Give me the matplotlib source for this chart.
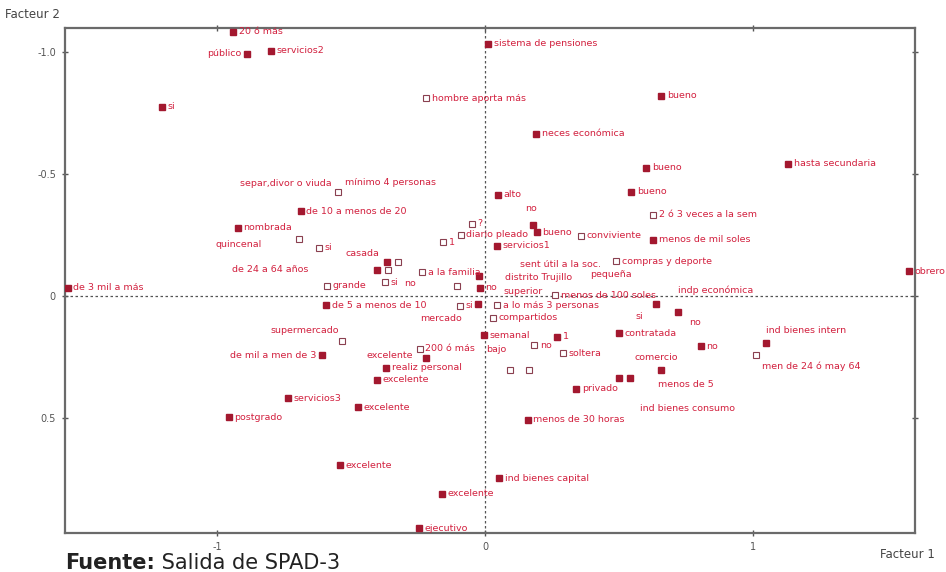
"""
SPAD factor map (Facteur 1 x Facteur 2) with category labels.
"""

import matplotlib.pyplot as plt

# active categories (filled squares)
FILLED_LABELS = [
    "20 ó más", "público", "servicios2", "si", "sistema de pensiones",
    "bueno", "neces económica", "bueno", "hasta secundaria", "bueno",
    "alto", "de 10 a menos de 20", "nombrada", "de 3 mil a más", "obrero",
    "", "bueno", "servicios1", "", "no",
    "", "", "de 5 a menos de 10", "", "semanal",
    "1", "", "de mil a men de 3", "realiz personal", "excelente",
    "privado", "servicios3", "excelente", "postgrado", "menos de 30 horas",
    "excelente", "ind bienes capital", "excelente", "ejecutivo", "",
    "", "contratada", "no", "", "",
    "", "", "menos de mil soles",
]
FILLED_X = [
    -0.940, -0.888, -0.799, -1.205, 0.011,
    0.657, 0.190, 0.601, 1.131, 0.545,
    0.049, -0.687, -0.922, -1.556, 1.582,
    0.179, 0.194, 0.045, -0.022, -0.019,
    -0.366, -0.403, -0.593, -0.026, -0.004,
    0.269, -0.220, -0.608, -0.369, -0.403,
    0.340, -0.735, -0.474, -0.955, 0.160,
    -0.541, 0.052, -0.160, -0.246, 0.638,
    0.720, 0.500, 0.806, 1.049, 0.657,
    0.500, 0.541, 0.627,
]
FILLED_Y = [
    -1.082, -0.992, -1.004, -0.775, -1.033,
    -0.820, -0.664, -0.525, -0.541, -0.426,
    -0.414, -0.348, -0.279, -0.033, -0.102,
    -0.291, -0.262, -0.205, -0.082, -0.033,
    -0.139, -0.107, 0.037, 0.033, 0.160,
    0.168, 0.254, 0.242, 0.295, 0.344,
    0.381, 0.418, 0.455, 0.496, 0.508,
    0.693, 0.746, 0.811, 0.951, 0.033,
    0.066, 0.152, 0.205, 0.193, 0.303,
    0.336, 0.336, -0.230,
]

# supplementary categories (hollow squares)
HOLLOW_LABELS = [
    "hombre aporta más", "", "", "si", "grande",
    "si", "a la familia", "menos de 100 soles", "a lo más 3 personas", "compartidos",
    "200 ó más", "", "no", "soltera", "",
    "", "2 ó 3 veces a la sem", "conviviente", "compras y deporte", "",
    "?", "diario pleado", "1", "si", "",
    "", "",
]
HOLLOW_X = [
    -0.220, -0.549, -0.694, -0.619, -0.590,
    -0.373, -0.235, 0.261, 0.045, 0.030,
    -0.243, -0.534, 0.183, 0.291, 0.093,
    0.164, 0.627, 0.358, 0.489, 1.011,
    -0.049, -0.090, -0.157, -0.093, -0.104,
    -0.325, -0.362,
]
HOLLOW_Y = [
    -0.811, -0.426, -0.234, -0.197, -0.041,
    -0.057, -0.098, -0.004, 0.037, 0.090,
    0.217, 0.184, 0.201, 0.234, 0.303,
    0.303, -0.332, -0.246, -0.143, 0.242,
    -0.295, -0.250, -0.221, 0.041, -0.041,
    -0.139, -0.107,
]

# labels displaced from their points
TEXT_LABELS = [
    "separ,divor o viuda", "mínimo 4 personas", "no", "quincenal", "casada",
    "de 24 a 64 años", "no", "sent útil a la soc.", "distrito Trujillo", "superior",
    "pequeña", "indp económica", "mercado", "supermercado", "excelente",
    "bajo", "si", "no", "ind bienes intern", "comercio",
    "menos de 5", "ind bienes consumo", "men de 24 ó may 64",
]
TEXT_X = [
    -0.914, -0.522, 0.149, -1.007, -0.522,
    -0.944, -0.302, 0.131, 0.075, 0.067,
    0.392, 0.720, -0.243, -0.802, -0.444,
    0.004, 0.563, 0.761, 1.049, 0.556,
    0.646, 0.578, 1.034,
]
TEXT_Y = [
    -0.459, -0.463, -0.357, -0.209, -0.172,
    -0.107, -0.053, -0.127, -0.074, -0.020,
    -0.090, -0.025, 0.094, 0.143, 0.242,
    0.221, 0.086, 0.107, 0.143, 0.254,
    0.361, 0.459, 0.287,
]

LEFT_SIDE = {"público", "de mil a men de 3"}

TEXT_COLOR = "#d2203e"
MARK_COLOR = "#a3182f"
FONT = "DejaVu Sans"
LABEL_SIZE = 6.8


def put_label(ax, x, y, label):
    if not label:
        return
    left = label in LEFT_SIDE
    ax.annotate(label, (x, y), xytext=(-4 if left else 4, 0), textcoords="offset points",
                ha="right" if left else "left", va="center", fontsize=LABEL_SIZE,
                color=TEXT_COLOR, family=FONT, annotation_clip=False)


def plot_factor_map():
    fig = plt.figure(figsize=(9.46, 5.72), dpi=100)
    ax = fig.add_axes([0.0687, 0.0682, 0.8985, 0.8829])

    ax.axhline(0, color="#555555", lw=0.9, ls=(0, (2, 2)), zorder=1)
    ax.axvline(0, color="#555555", lw=0.9, ls=(0, (2, 2)), zorder=1)

    ax.plot(FILLED_X, FILLED_Y, ls="none", marker="s", ms=3.8,
            mfc=MARK_COLOR, mec=MARK_COLOR, zorder=3)
    ax.plot(HOLLOW_X, HOLLOW_Y, ls="none", marker="s", ms=3.8,
            mfc="white", mec="#8a4050", mew=0.8, zorder=3)

    for x, y, lab in zip(FILLED_X, FILLED_Y, FILLED_LABELS):
        put_label(ax, x, y, lab)
    for x, y, lab in zip(HOLLOW_X, HOLLOW_Y, HOLLOW_LABELS):
        put_label(ax, x, y, lab)
    for x, y, lab in zip(TEXT_X, TEXT_Y, TEXT_LABELS):
        ax.text(x, y, lab, ha="left", va="center", fontsize=LABEL_SIZE,
                color=TEXT_COLOR, family=FONT)

    ax.set_xlim(-1.567, 1.604)
    ax.set_ylim(0.971, -1.098)
    ax.set_xticks([-1, 0, 1])
    ax.set_xticklabels(["-1", "0", "1"])
    ax.set_yticks([-1.0, -0.5, 0, 0.5])
    ax.set_yticklabels(["-1.0", "-0.5", "0", "0.5"])
    ax.tick_params(direction="inout", length=5, width=1, colors="#555555",
                   labelsize=7, top=True, right=True, pad=4)
    for s in ax.spines.values():
        s.set_color("#6a6a6a")
        s.set_linewidth(1.6)

    fig.text(0.005, 0.974, "Facteur 2", fontsize=8.5, color="#444444", family=FONT,
             va="center")
    fig.text(0.930, 0.030, "Facteur 1", fontsize=8.5, color="#444444", family=FONT,
             va="center")

    t1 = fig.text(0.069, 0.006, "Fuente:", fontsize=15, fontweight="bold",
                  color="#222222", family="DejaVu Sans", va="baseline")
    ax.annotate(" Salida de SPAD-3", xy=(1, 0), xycoords=t1, va="bottom", ha="left",
                fontsize=15, color="#222222", family="DejaVu Sans", annotation_clip=False)

    fig.savefig("out.png", dpi=100)


if __name__ == "__main__":
    plot_factor_map()
